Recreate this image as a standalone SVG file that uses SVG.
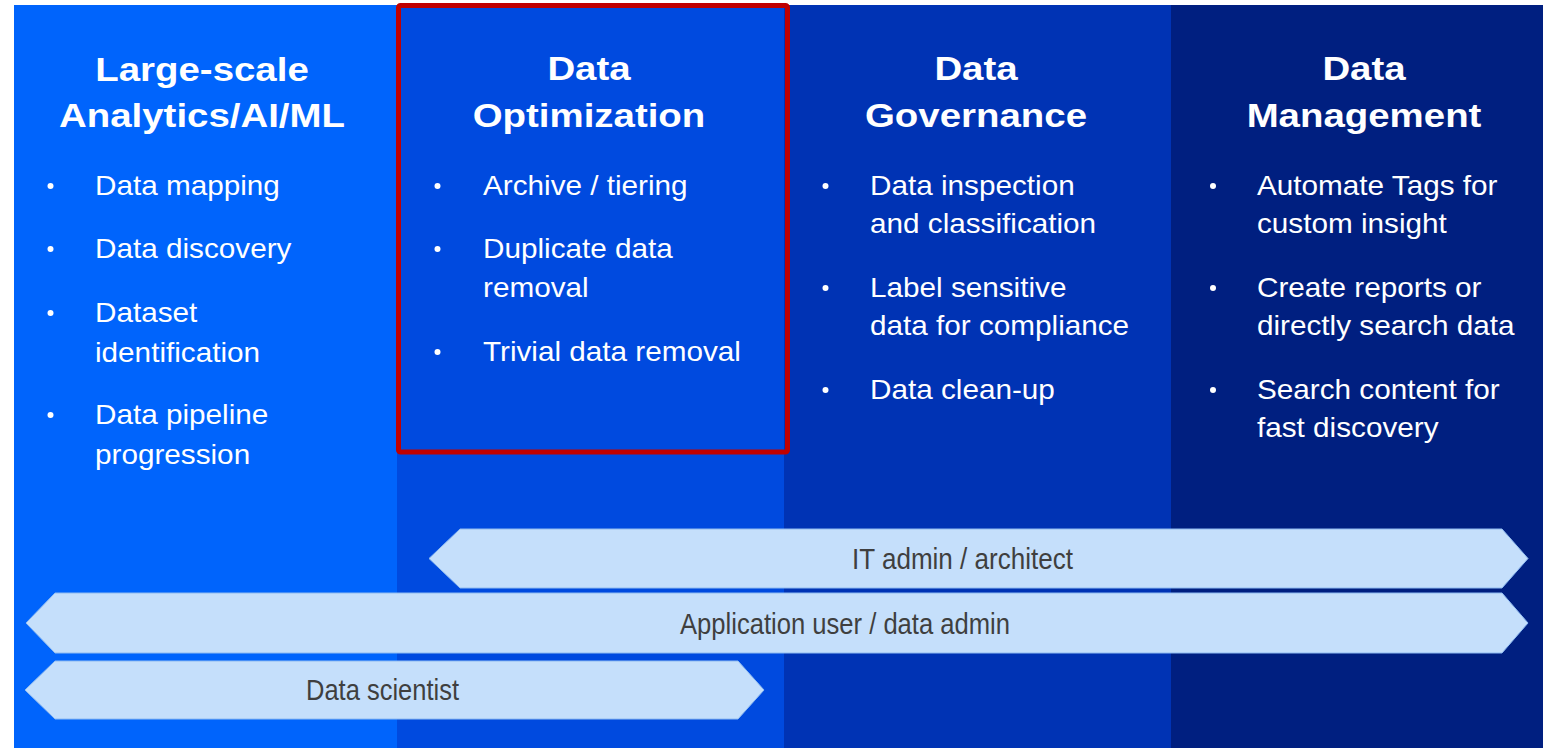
<svg xmlns="http://www.w3.org/2000/svg" width="1552" height="748" viewBox="0 0 1552 748">
<style>
.hd{font-family:"Liberation Sans",Arial,sans-serif;font-weight:bold;font-size:34px;fill:#ffffff;text-anchor:middle}
.bt{font-family:"Liberation Sans",Arial,sans-serif;font-size:27px;fill:#ffffff}
.dot{fill:#ffffff}
.bar{fill:#C5DFFB;stroke:#8FBBF0;stroke-width:1}
.bl{font-family:"Liberation Sans",Arial,sans-serif;font-size:29px;fill:#3f3f3f;text-anchor:middle}
</style>
<rect x="0" y="0" width="1552" height="748" fill="#ffffff"/>
<g id="col-analytics">
<rect x="14" y="5" width="383" height="743" fill="#0064FC"/>
<g transform="translate(202 0) scale(1.13 1)">
<text class="hd" x="0" y="81">Large-scale</text>
<text class="hd" x="0" y="127">Analytics/AI/ML</text>
</g>
<circle class="dot" cx="50.5" cy="186" r="3"/>
<circle class="dot" cx="50.5" cy="249" r="3"/>
<circle class="dot" cx="50.5" cy="313" r="3"/>
<circle class="dot" cx="50.5" cy="415" r="3"/>
<g transform="translate(95 0) scale(1.1 1)">
<text class="bt" x="0" y="195">Data mapping</text>
<text class="bt" x="0" y="258">Data discovery</text>
<text class="bt" x="0" y="322">Dataset</text>
<text class="bt" x="0" y="362">identification</text>
<text class="bt" x="0" y="424">Data pipeline</text>
<text class="bt" x="0" y="464">progression</text>
</g>
</g>
<g id="col-optimization">
<rect x="397" y="5" width="387" height="743" fill="#004ADF"/>
<g transform="translate(589 0) scale(1.13 1)">
<text class="hd" x="0" y="80">Data</text>
<text class="hd" x="0" y="127">Optimization</text>
</g>
<circle class="dot" cx="437.5" cy="186" r="3"/>
<circle class="dot" cx="437.5" cy="249" r="3"/>
<circle class="dot" cx="437.5" cy="352" r="3"/>
<g transform="translate(483 0) scale(1.1 1)">
<text class="bt" x="0" y="195">Archive / tiering</text>
<text class="bt" x="0" y="258">Duplicate data</text>
<text class="bt" x="0" y="297">removal</text>
<text class="bt" x="0" y="361">Trivial data removal</text>
</g>
</g>
<g id="col-governance">
<rect x="784" y="5" width="387" height="743" fill="#0033B4"/>
<g transform="translate(976 0) scale(1.13 1)">
<text class="hd" x="0" y="80">Data</text>
<text class="hd" x="0" y="127">Governance</text>
</g>
<circle class="dot" cx="825.5" cy="186" r="3"/>
<circle class="dot" cx="825.5" cy="288" r="3"/>
<circle class="dot" cx="825.5" cy="390" r="3"/>
<g transform="translate(870 0) scale(1.1 1)">
<text class="bt" x="0" y="195">Data inspection</text>
<text class="bt" x="0" y="233">and classification</text>
<text class="bt" x="0" y="297">Label sensitive</text>
<text class="bt" x="0" y="335">data for compliance</text>
<text class="bt" x="0" y="399">Data clean-up</text>
</g>
</g>
<g id="col-management">
<rect x="1171" y="5" width="372" height="743" fill="#001F80"/>
<g transform="translate(1364 0) scale(1.13 1)">
<text class="hd" x="0" y="80">Data</text>
<text class="hd" x="0" y="127">Management</text>
</g>
<circle class="dot" cx="1213" cy="186" r="3"/>
<circle class="dot" cx="1213" cy="288" r="3"/>
<circle class="dot" cx="1213" cy="390" r="3"/>
<g transform="translate(1257 0) scale(1.1 1)">
<text class="bt" x="0" y="195">Automate Tags for</text>
<text class="bt" x="0" y="233">custom insight</text>
<text class="bt" x="0" y="297">Create reports or</text>
<text class="bt" x="0" y="335">directly search data</text>
<text class="bt" x="0" y="399">Search content for</text>
<text class="bt" x="0" y="437">fast discovery</text>
</g>
</g>
<g id="highlight">
<rect x="398.5" y="5.5" width="389" height="446.5" rx="2" fill="none" stroke="#C00000" stroke-width="5"/>
</g>
<g id="bar-it-admin">
<polygon class="bar" points="429,558.5 460,529 1502,529 1528,558.5 1502,588 460,588"/>
<text class="bl" x="962.5" y="569" textLength="221" lengthAdjust="spacingAndGlyphs">IT admin / architect</text>
</g>
<g id="bar-app-user">
<polygon class="bar" points="26,623 55,593 1502,593 1528,623 1502,653 55,653"/>
<text class="bl" x="845" y="634" textLength="330" lengthAdjust="spacingAndGlyphs">Application user / data admin</text>
</g>
<g id="bar-data-scientist">
<polygon class="bar" points="25,690 55,661 738,661 764,690 738,719 55,719"/>
<text class="bl" x="382.5" y="700" textLength="153" lengthAdjust="spacingAndGlyphs">Data scientist</text>
</g>
<g id="connectors"></g>
</svg>
